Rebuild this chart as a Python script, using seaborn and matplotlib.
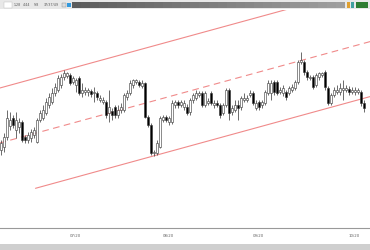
import matplotlib
matplotlib.use("Agg")
import matplotlib.pyplot as plt
import seaborn as sns
import numpy as np
import pandas as pd
from matplotlib.patches import Rectangle

# ---- data (price units) ----
opens  = [100,103,113,124,132,120,123,128,113,110,112,115,108,130,132,137,145,148,157,160,
          165,173,174,175,168,165,172,157,158,158,159,157,157,150,148,148,137,139,143,135,
          140,140,153,157,165,168,168,164,167,133,125,97,97,103,130,133,128,128,145,148,
          145,143,143,138,150,152,155,157,145,147,157,145,147,145,137,145,160,138,140,145,
          143,150,150,155,157,142,148,145,147,157,157,168,168,158,157,158,157,160,162,168,
          188,188,178,172,173,165,173,175,178,162,147,155,158,158,160,160,161,158,158,158,
          158,147]
highs  = [110,117,140,138,135,138,132,130,115,118,121,123,132,140,145,152,157,162,167,175,
          176,180,178,177,174,172,174,167,163,162,161,163,159,155,153,150,160,142,145,145,
          147,157,160,170,171,171,170,170,168,135,127,100,110,134,135,135,134,150,150,150,
          150,150,146,152,157,160,159,159,159,152,159,150,150,147,147,162,162,145,150,150,
          154,157,155,160,159,150,150,150,160,170,170,170,170,163,165,160,164,166,170,190,
          198,190,180,175,175,177,178,178,180,164,157,163,165,167,170,165,164,163,163,162,
          160,150]
lows   = [95,98,110,120,122,112,117,108,107,107,108,112,107,128,130,135,142,146,154,158,
          162,170,172,165,166,158,155,153,155,154,153,148,150,148,146,132,128,130,132,132,
          137,138,150,155,162,166,163,162,132,123,95,94,95,102,128,128,125,126,142,142,
          143,140,135,135,147,150,153,143,143,145,145,142,143,132,135,143,130,135,138,130,
          140,148,148,153,145,140,140,142,145,155,150,155,155,156,154,150,155,158,160,166,
          186,175,170,170,161,163,170,173,160,145,145,153,156,155,150,158,155,156,155,156,
          144,138]
closes = [107,113,132,130,125,130,128,110,110,115,118,120,130,137,140,148,153,157,163,172,
          173,177,177,167,172,170,157,160,160,160,156,158,153,152,150,135,143,135,135,140,
          143,155,157,167,170,170,165,167,133,125,97,98,107,132,133,130,132,147,148,145,
          148,147,137,150,155,157,157,145,157,149,147,147,145,135,145,160,137,142,145,142,
          152,152,152,157,147,147,143,148,158,167,167,158,157,160,162,153,162,163,168,188,
          190,178,173,173,163,175,177,177,163,147,155,160,160,162,162,162,158,160,160,160,
          147,142]

month_ticks = [23, 54, 84, 116]
month_labels = ["07/20", "08/20", "09/20", "10/20"]

# regression channel (candle index -> price)
channel_x = [-0.5, 123.5]
upper_y = [161.9, 263.8]
middle_y = [106.9, 208.8]
lower_x = [11.5, 123.5]
lower_y = [61.7, 153.8]

n = min(len(opens), len(highs), len(lows), len(closes))
df = pd.DataFrame({"i": np.arange(n), "o": opens[:n], "h": highs[:n],
                   "l": lows[:n], "c": closes[:n]})
df["top"] = df[["o", "c"]].max(axis=1)
df["bot"] = df[["o", "c"]].min(axis=1)
df["h"] = np.maximum(df["h"], df["top"])
df["l"] = np.minimum(df["l"], df["bot"])
df["up"] = df["c"] >= df["o"]

sns.set_style("white")
fig = plt.figure(figsize=(3.7, 2.5), dpi=100)
ax = fig.add_axes([0, 0.088, 1, 0.872])

line_col = "#f08a8a"
ch = pd.DataFrame({"x": channel_x, "u": upper_y, "m": middle_y})
sns.lineplot(data=ch, x="x", y="u", ax=ax, color=line_col, lw=0.8)
sns.lineplot(data=ch, x="x", y="m", ax=ax, color=line_col, lw=0.8, linestyle=(0, (6, 4)))
lo_df = pd.DataFrame({"x": lower_x, "y": lower_y})
sns.lineplot(data=lo_df, x="x", y="y", ax=ax, color=line_col, lw=0.8)

# candles
ax.vlines(df["i"], df["l"], df["h"], color="#444444", lw=0.55, zorder=3)
colors = np.where(df["up"], "white", "black")
ax.bar(df["i"], (df["top"] - df["bot"]).clip(lower=0.8), bottom=df["bot"], width=0.72,
       color=colors, edgecolor="#333333", linewidth=0.4, zorder=4)

ax.set_xlim(-0.33, 123)
ax.set_ylim(22, 240)
ax.set_xlabel("")
ax.set_ylabel("")
ax.set_yticks([])
for s in ["left", "right", "top"]:
    ax.spines[s].set_visible(False)
ax.spines["bottom"].set_color("#999999")
ax.spines["bottom"].set_linewidth(0.8)
ax.set_xticks(month_ticks)
ax.set_xticklabels(month_labels, fontsize=2.8, color="#666666", ha="left")
ax.set_xticks(np.arange(0, 124, 1), minor=True)
ax.tick_params(axis="x", which="major", length=3, width=0.5, color="#555555", pad=1.5, direction="out")
ax.tick_params(axis="x", which="minor", length=1.8, width=0.6, color="#333333", direction="out")

# top toolbar
def frect(x, y, w, h, **kw):
    fig.patches.append(Rectangle((x / 370, 1 - (y + h) / 250), w / 370, h / 250,
                                 transform=fig.transFigure, **kw))
frect(0, 0, 370, 9, facecolor="#e8e8e8", edgecolor="none")
steps = 30
for k in range(steps):
    g = 0.36 + 0.26 * k / (steps - 1)
    frect(72 + 273 * k / steps, 2, 273 / steps + 0.3, 6,
          facecolor=(g, g, g), edgecolor="none")
frect(347, 2, 3, 6, facecolor="#e0a030", edgecolor="none")
frect(351, 2, 3, 6, facecolor="#40a0a0", edgecolor="none")
frect(356, 2, 12, 6, facecolor="#2e7d32", edgecolor="none")
frect(4, 2, 8, 6, facecolor="white", edgecolor="#bbbbbb", linewidth=0.3)
for xx, t in [(14, "1.28"), (23, "4/44"), (34, "5/8"), (44, "37/37/49")]:
    fig.text(xx / 370, 1 - 5 / 250, t, fontsize=2.3, color="#555555", va="center")
frect(62, 3, 4, 4, facecolor="#dddddd", edgecolor="#888888", linewidth=0.3)
frect(67, 3, 4, 4, facecolor="#3399dd", edgecolor="none")
# bottom bar
frect(0, 244, 370, 6, facecolor="#cfcfcf", edgecolor="none")

fig.savefig("out.png", dpi=100)
